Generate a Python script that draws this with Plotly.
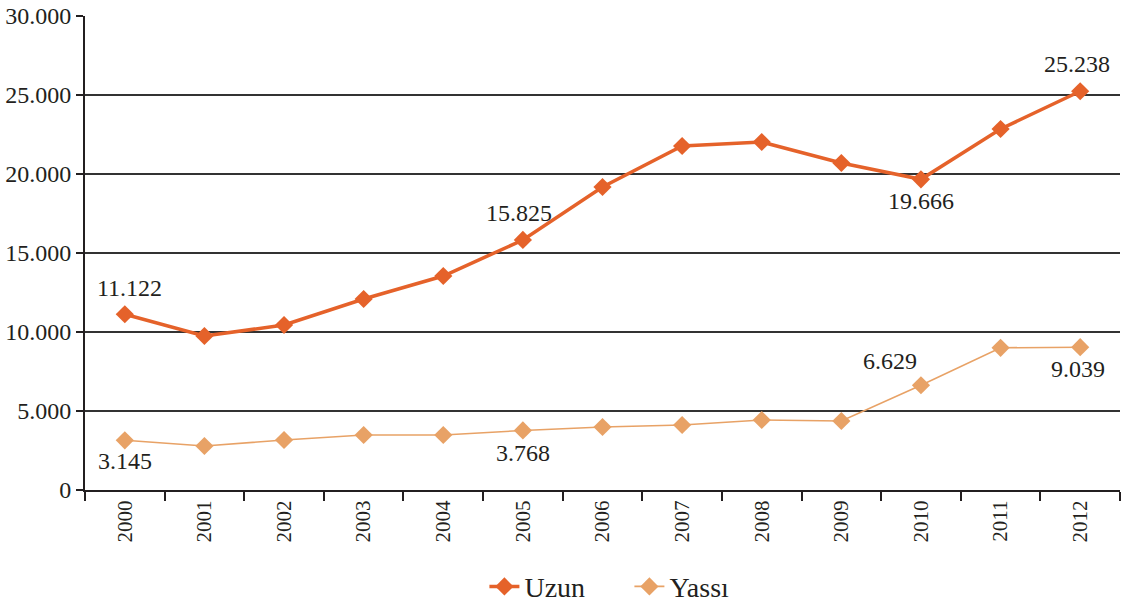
import plotly.graph_objects as go

years = ["2000", "2001", "2002", "2003", "2004", "2005", "2006",
         "2007", "2008", "2009", "2010", "2011", "2012"]
uzun = [11122, 9747, 10443, 12089, 13544, 15825, 19177,
        21772, 22025, 20696, 19666, 22848, 25238]
yassi = [3145, 2785, 3165, 3481, 3481, 3768, 3987,
         4114, 4430, 4367, 6629, 9000, 9039]
y_ticks = [0, 5000, 10000, 15000, 20000, 25000, 30000]

UZUN_COLOR = "#E5622A"
YASSI_COLOR = "#E8A266"
TEXT_COLOR = "#231f20"
FONT = "Liberation Serif, Times New Roman, serif"

fig = go.Figure()
fig.add_trace(go.Scatter(
    x=years, y=uzun, name="Uzun", mode="lines+markers",
    line=dict(color=UZUN_COLOR, width=3.5),
    marker=dict(symbol="diamond", size=14, color=UZUN_COLOR),
))
fig.add_trace(go.Scatter(
    x=years, y=yassi, name="Yassı", mode="lines+markers",
    line=dict(color=YASSI_COLOR, width=1.6),
    marker=dict(symbol="diamond", size=14, color=YASSI_COLOR),
))


def fmt(v):
    return f"{v:,}".replace(",", ".")


# (series, year index, xshift, yshift)
labelled = [
    (uzun, 0, 5, 26), (uzun, 5, -4, 27), (uzun, 10, 0, -22), (uzun, 12, -3, 27),
    (yassi, 0, 0, -21), (yassi, 5, 0, -23), (yassi, 10, -31, 24), (yassi, 12, -2, -22),
]
for series, i, dx, dy in labelled:
    fig.add_annotation(
        x=i, y=series[i], text=fmt(series[i]), showarrow=False,
        xshift=dx, yshift=dy, font=dict(family=FONT, size=24, color=TEXT_COLOR),
    )

fig.update_layout(
    width=1122, height=603,
    margin=dict(l=85, r=2, t=16, b=113),
    paper_bgcolor="white", plot_bgcolor="white",
    separators=",.",
    font=dict(family=FONT, size=22, color=TEXT_COLOR),
    showlegend=True,
    legend=dict(orientation="h", x=0.526, xanchor="center",
                yref="container", y=0.027, yanchor="middle",
                font=dict(family=FONT, size=28), itemwidth=30,
                entrywidth=100),
)
fig.update_xaxes(
    type="category", tickangle=-90, tickson="boundaries", automargin=False,
    tickfont=dict(size=21),
    ticks="outside", ticklen=9, tickwidth=2, tickcolor=TEXT_COLOR,
    showline=True, linecolor=TEXT_COLOR, linewidth=2,
    showgrid=False, range=[-0.5, 12.5],
)
fig.update_yaxes(
    range=[0, 30000], tickvals=y_ticks, tickformat=",d", automargin=False,
    tickfont=dict(size=24),
    ticks="outside", ticklen=7, tickwidth=2, tickcolor=TEXT_COLOR,
    showline=True, linecolor=TEXT_COLOR, linewidth=2,
    showgrid=True, gridcolor="#333333", gridwidth=1.5, zeroline=False,
)

fig.write_html("out.html")
